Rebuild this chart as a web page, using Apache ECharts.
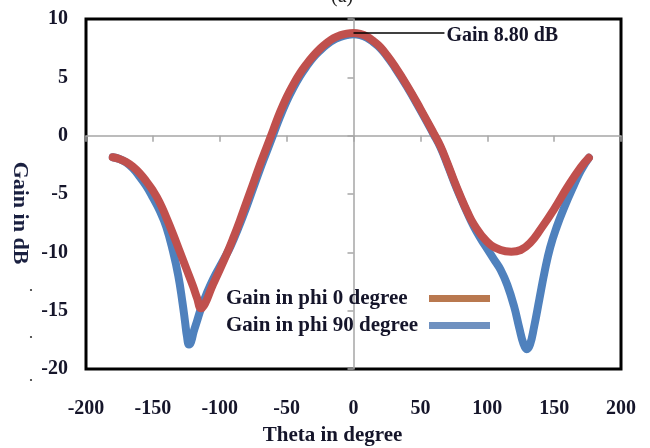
<!DOCTYPE html>
<html>
<head>
<meta charset="utf-8">
<script src="https://cdn.jsdelivr.net/npm/echarts@6/dist/echarts.min.js"></script>
<style>
  html, body { margin: 0; padding: 0; background: #fff; }
  #chart { width: 650px; height: 448px; }
</style>
</head>
<body>
<div id="chart"></div>
<script>
// Radiation pattern cuts: gain (dB) versus theta (degrees)
const theta0 = [-180,-175,-170,-165,-160,-155,-150,-145,-140,-135,-130,-125,-120,-117,-114,-111,-106,-102,-95,-90,-85,-80,-75,-70,-65,-60,-55,-50,-45,-40,-35,-30,-25,-20,-15,-10,-5,0,5,10,15,20,25,30,40,50,60,65,70,75,80,85,90,100,110,118,125,132,140,150,160,170,176];
const gain0 = [-1.85,-2.0,-2.25,-2.65,-3.2,-3.9,-4.7,-5.7,-7.0,-8.4,-9.9,-11.4,-12.9,-13.9,-14.8,-14.4,-13.0,-12.0,-10.2,-8.8,-7.3,-5.7,-4.1,-2.5,-1.0,0.5,2.0,3.3,4.4,5.35,6.15,6.85,7.45,7.95,8.35,8.6,8.75,8.8,8.72,8.5,8.1,7.6,6.9,6.1,4.3,2.3,0.2,-0.9,-2.3,-3.8,-5.2,-6.5,-7.6,-9.1,-9.8,-9.95,-9.8,-9.2,-8.0,-6.3,-4.4,-2.7,-1.9];

const theta90 = [-180,-175,-170,-165,-160,-155,-150,-145,-140,-135,-131,-128,-126,-124.5,-123,-121.5,-119.5,-117,-114,-110,-105,-97,-92,-85,-80,-75,-70,-65,-60,-55,-50,-45,-40,-35,-30,-25,-20,-15,-10,-5,0,5,10,15,20,25,30,40,50,60,65,70,75,80,85,90,95,100,105,110,115,120,124,127,129.5,132,135,139,143,147,152,157,165,170,176];
const gain90 = [-1.85,-2.0,-2.3,-2.8,-3.5,-4.3,-5.3,-6.4,-7.8,-9.9,-12.0,-14.2,-15.9,-17.2,-17.9,-17.7,-16.8,-15.9,-14.8,-13.6,-12.3,-10.6,-9.5,-7.6,-6.1,-4.5,-2.9,-1.4,0.1,1.6,2.95,4.1,5.1,5.95,6.7,7.3,7.8,8.2,8.45,8.62,8.7,8.62,8.4,8.0,7.5,6.8,6.0,4.2,2.2,0.1,-1.0,-2.4,-3.9,-5.3,-6.6,-7.8,-8.8,-9.7,-10.6,-11.5,-12.8,-14.6,-16.5,-17.8,-18.3,-17.9,-16.4,-14.0,-11.6,-9.6,-7.8,-6.3,-4.2,-3.0,-1.9];

const seriesNames = ['Gain in phi 0 degree', 'Gain in phi 90 degree'];
const peakGain = 8.8;
const peakTheta = 0;

const xTicks = { min: -200, max: 200, interval: 50 };
const yTicks = { min: -20, max: 10, interval: 5 };

const pairs = (xs, ys) => xs.map((x, i) => [x, ys[i]]);

const serif = 'Liberation Serif';
const ink = '#15152a';
const axisGray = '#a6a6a6';

const chart = echarts.init(document.getElementById('chart'), null, { renderer: 'canvas' });

chart.setOption({
  animation: false,
  backgroundColor: '#fff',
  title: {
    text: '(a)',
    left: 326,
    top: -18,
    textStyle: { fontFamily: serif, fontSize: 20, fontWeight: 'normal', color: '#222' }
  },
  grid: {
    left: 86, right: 29, top: 19, bottom: 79,
    outerBoundsMode: 'none',
    containLabel: false,
    show: true,
    borderColor: '#000',
    borderWidth: 3,
    backgroundColor: 'transparent'
  },
  legend: {
    orient: 'vertical',
    left: 226,
    top: 288,
    padding: 0,
    align: 'right',
    itemWidth: 61,
    itemHeight: 7,
    itemGap: 6,
    icon: 'rect',
    formatter: name => '{a|' + name + '}',
    textStyle: {
      rich: {
        a: {
          width: 198, lineHeight: 20, align: 'left',
          fontFamily: serif, fontSize: 21, fontWeight: 'bold', color: ink
        }
      }
    },
    data: [
      { name: seriesNames[0], itemStyle: { color: '#B9784F' } },
      { name: seriesNames[1], itemStyle: { color: '#6F91C0' } }
    ]
  },
  xAxis: [
    {
      type: 'value', position: 'bottom',
      min: xTicks.min, max: xTicks.max, interval: xTicks.interval,
      axisLine: { show: false }, axisTick: { show: false }, splitLine: { show: false },
      axisLabel: { margin: 30, fontFamily: serif, fontSize: 20, fontWeight: 'bold', color: ink },
      name: 'Theta in degree',
      nameLocation: 'middle',
      nameGap: 56,
      nameTextStyle: { fontFamily: serif, fontSize: 21, fontWeight: 'bold', color: ink, padding: [0, 42, 0, 0] }
    },
    {
      type: 'value', position: 'bottom',
      min: xTicks.min, max: xTicks.max, interval: xTicks.interval,
      axisLine: { show: true, onZero: true, lineStyle: { color: axisGray, width: 1.5 } },
      axisTick: { show: true, length: 6, lineStyle: { color: axisGray, width: 1.5 } },
      axisLabel: { show: false }, splitLine: { show: false }
    }
  ],
  yAxis: [
    {
      type: 'value', position: 'left',
      min: yTicks.min, max: yTicks.max, interval: yTicks.interval,
      axisLine: { show: false }, axisTick: { show: false }, splitLine: { show: false },
      axisLabel: { margin: 18, fontFamily: serif, fontSize: 20, fontWeight: 'bold', color: ink },
      name: 'Gain in dB',
      nameLocation: 'middle',
      nameRotate: -90,
      nameGap: 52,
      nameTextStyle: { fontFamily: serif, fontSize: 22, fontWeight: 'bold', color: '#1a2040', padding: [0, 0, 0, 38] }
    },
    {
      type: 'value', position: 'left',
      min: yTicks.min, max: yTicks.max, interval: yTicks.interval,
      axisLine: { show: true, onZero: true, lineStyle: { color: axisGray, width: 1.5 } },
      axisTick: { show: true, length: 6, lineStyle: { color: axisGray, width: 1.5 } },
      axisLabel: { show: false }, splitLine: { show: false }
    }
  ],
  graphic: [
    { type: 'circle', shape: { cx: 31, cy: 290, r: 1.1 }, style: { fill: '#333' } },
    { type: 'circle', shape: { cx: 31, cy: 337, r: 1.1 }, style: { fill: '#333' } },
    { type: 'circle', shape: { cx: 31, cy: 380, r: 1.1 }, style: { fill: '#333' } }
  ],
  series: [
    {
      name: seriesNames[0],
      type: 'line',
      xAxisIndex: 0, yAxisIndex: 0,
      data: pairs(theta0, gain0),
      smooth: 0.45,
      showSymbol: false,
      z: 4,
      lineStyle: { color: '#C0504D', width: 8, cap: 'round', join: 'round' },
      itemStyle: { color: '#C0504D' },
      markLine: {
        silent: true,
        symbol: ['none', 'none'],
        lineStyle: { color: '#000', width: 1.5, type: 'solid' },
        label: {
          show: true, position: 'end', distance: 2,
          formatter: () => 'Gain ' + peakGain.toFixed(2) + ' dB',
          fontFamily: serif, fontSize: 20, fontWeight: 'bold', color: ink,
          offset: [0, 3]
        },
        data: [[{ coord: [peakTheta, peakGain] }, { coord: [68, peakGain] }]]
      }
    },
    {
      name: seriesNames[1],
      type: 'line',
      xAxisIndex: 0, yAxisIndex: 0,
      data: pairs(theta90, gain90),
      smooth: 0.45,
      showSymbol: false,
      z: 3,
      lineStyle: { color: '#4F81BD', width: 8, cap: 'round', join: 'round' },
      itemStyle: { color: '#4F81BD' }
    }
  ]
});
</script>
</body>
</html>
